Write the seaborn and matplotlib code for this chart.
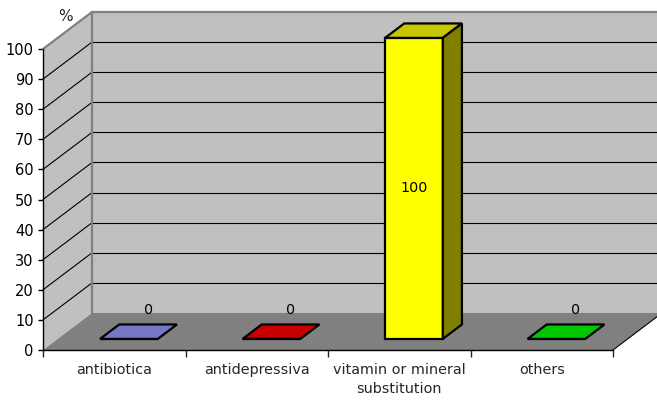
import matplotlib
matplotlib.use("Agg")
import matplotlib.pyplot as plt
import seaborn as sns
import pandas as pd
from matplotlib.colors import to_rgb
from matplotlib.patches import Polygon

# ---- chart data -------------------------------------------------------
categories = ["antibiotica", "antidepressiva",
              "vitamin or mineral\nsubstitution", "others"]
values = [0, 0, 100, 0]
bar_colors = ["#9999FF", "#FF0000", "#FFFF00", "#00FF00"]
y_ticks = list(range(0, 101, 10))
y_unit = "%"

# ---- pseudo-3D geometry (data units) ----------------------------------
DX, DY = 0.344, 12.3          # full depth of the plot box
BAR_FRONT, BAR_BACK = 0.30, 0.69   # bar position inside the depth
BAR_W = 0.405
LW_BAR = 1.6

WALL = "#C0C0C0"
FLOOR = "#808080"
EDGE = "#808080"


def shade(color, f):
    r, g, b = to_rgb(color)
    return (r * f, g * f, b * f)


sns.set_style("white")
plt.rcParams["font.family"] = ["DejaVu Sans"]

fig = plt.figure(figsize=(6.57, 4.01), dpi=100)
ax = fig.add_axes([43 / 657, 51 / 401, 570 / 657, 301 / 401])
ax.patch.set_visible(False)

df = pd.DataFrame({"category": categories, "value": values})
sns.barplot(data=df, x="category", y="value", hue="category",
            palette=bar_colors, width=BAR_W, edgecolor="black",
            linewidth=LW_BAR, legend=False, ax=ax, zorder=3)
bars = list(ax.patches)

x0, x1 = -0.5, len(categories) - 0.5
ax.set_xlim(x0, x1)
ax.set_ylim(0, 100)

# left wall, back wall and floor
ax.add_patch(Polygon([(x0, 0), (x0 + DX, DY), (x0 + DX, 100 + DY), (x0, 100)],
                     closed=True, facecolor=WALL, edgecolor="none",
                     clip_on=False, zorder=0.5))
ax.add_patch(Polygon([(x0 + DX, DY), (x1 + DX, DY), (x1 + DX, 100 + DY),
                      (x0 + DX, 100 + DY)],
                     closed=True, facecolor=WALL, edgecolor="none",
                     clip_on=False, zorder=0.5))
ax.add_patch(Polygon([(x0, 0), (x0 + DX, DY), (x1 + DX, DY), (x1, 0)],
                     closed=True, facecolor=FLOOR, edgecolor="none",
                     clip_on=False, zorder=0.6))
ax.plot([x1, x1 + DX], [0, DY], color="black", lw=0.8, clip_on=False, zorder=1)

# gridlines on both walls
for v in y_ticks[1:-1]:
    ax.plot([x0, x0 + DX], [v, v + DY], color="black", lw=0.8,
            clip_on=False, zorder=1)
    ax.plot([x0 + DX, x1 + DX], [v + DY, v + DY], color="black", lw=0.8,
            clip_on=False, zorder=1)

# wall borders
ax.plot([x0, x0 + DX, x1 + DX], [100, 100 + DY, 100 + DY], color=EDGE,
        lw=1.6, clip_on=False, zorder=1.2, solid_joinstyle="miter")
ax.plot([x0 + DX, x0 + DX], [DY, 100 + DY], color=EDGE, lw=1.6,
        clip_on=False, zorder=1.2)

# turn the flat bars into boxes
fx, fy = BAR_FRONT * DX, BAR_FRONT * DY
bdx, bdy = (BAR_BACK - BAR_FRONT) * DX, (BAR_BACK - BAR_FRONT) * DY
for p in bars:
    idx = int(round(p.get_x() + p.get_width() / 2))
    v = values[idx]
    col = bar_colors[idx]
    p.set_x(p.get_x() + fx)
    p.set_y(fy)
    p.set_facecolor(col)
    p.set_clip_on(False)
    p.set_joinstyle("miter")
    left, right = p.get_x(), p.get_x() + p.get_width()
    bottom, top = fy, fy + v
    ax.add_patch(Polygon([(left, top), (right, top), (right + bdx, top + bdy),
                          (left + bdx, top + bdy)], closed=True,
                         facecolor=shade(col, 0.78), edgecolor="black",
                         lw=LW_BAR, joinstyle="miter", clip_on=False,
                         zorder=3))
    if v > 0:
        ax.add_patch(Polygon([(right, bottom), (right + bdx, bottom + bdy),
                              (right + bdx, top + bdy), (right, top)],
                             closed=True, facecolor=shade(col, 0.5),
                             edgecolor="black", lw=LW_BAR, joinstyle="miter",
                             clip_on=False, zorder=3))
        ax.text((left + right) / 2, bottom + v / 2, f"{v:g}", ha="center",
                va="center", fontsize=10.3, color="black", zorder=4)
    else:
        ax.text((left + right) / 2 + bdx, top + bdy + 4.8, f"{v:g}",
                ha="center", va="center", fontsize=10.3, color="black",
                zorder=4)

# axes, ticks and labels
for s in ("top", "right"):
    ax.spines[s].set_visible(False)
for s in ("left", "bottom"):
    ax.spines[s].set_color("black")
    ax.spines[s].set_linewidth(1.0)
    ax.spines[s].set_zorder(2)

ax.set_yticks(y_ticks)
ax.set_yticklabels([str(t) for t in y_ticks])
ax.tick_params(axis="y", length=3.6, width=1, pad=3, labelsize=10.5,
               colors="black", left=True)
ax.set_xticks([i - 0.5 for i in range(len(categories) + 1)])
ax.set_xticklabels([""] * (len(categories) + 1))
ax.set_xticks(range(len(categories)), minor=True)
ax.set_xticklabels(categories, minor=True, fontsize=10.4, linespacing=1.4)
ax.tick_params(axis="x", which="major", length=5, width=1, bottom=True)
ax.tick_params(axis="x", which="minor", length=0, pad=9.5)
ax.set_xlabel("")
ax.set_ylabel("")
ax.text(x0 + 0.154, 110.7, y_unit, ha="center", va="center", fontsize=11)

fig.savefig("out.png", dpi=100)
